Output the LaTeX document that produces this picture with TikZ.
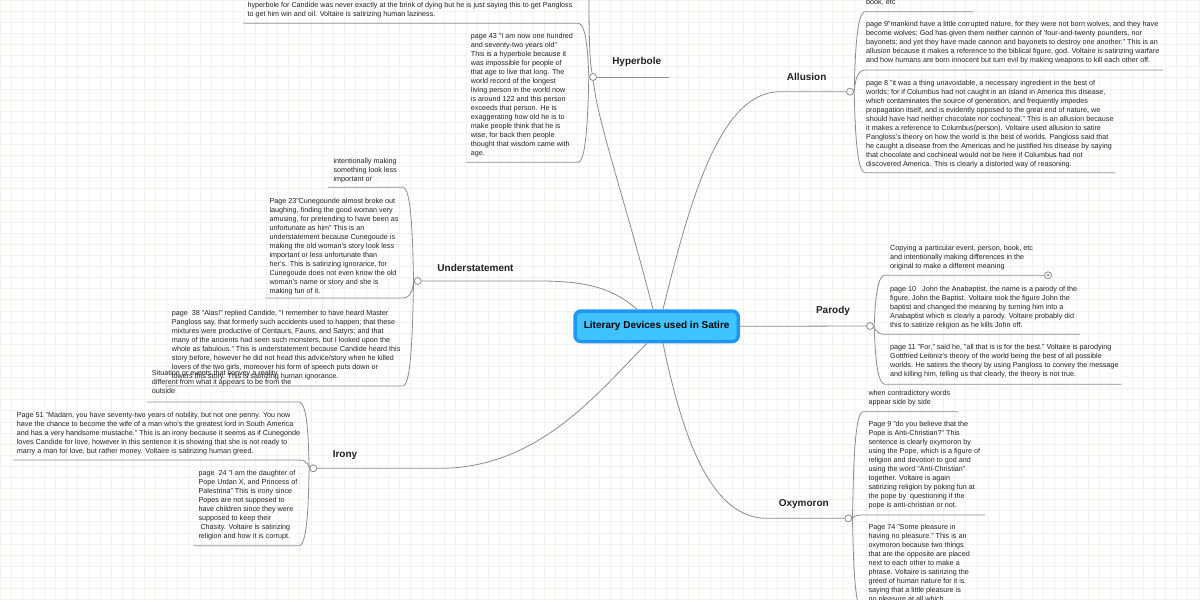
\documentclass[tikz,border=0pt]{standalone}
\usepackage{fontspec}
\setmainfont{Liberation Sans}
\definecolor{lc}{HTML}{8C8C8C}
\definecolor{gridc}{HTML}{F2F3EA}
\definecolor{cborder}{HTML}{2196F3}
\definecolor{cfill}{HTML}{40C4FF}
\definecolor{tc}{HTML}{222222}
\tikzset{
 conn/.style={draw=lc, line width=0.8pt},
 ul/.style={draw=lc, line width=0.8pt},
 knot/.style={circle, draw=lc, fill=white, line width=0.8pt, minimum size=7pt, inner sep=0pt},
 note/.style={anchor=north west, inner sep=0pt, align=left, text=tc, font=\fontsize{7.2}{9}\selectfont},
 topic/.style={inner sep=0pt, text=tc, font=\bfseries\fontsize{10}{12}\selectfont},
 central/.style={draw=cborder, fill=cfill, line width=3.5pt, rounded corners=6pt, minimum width=163.2pt, minimum height=30.5pt, inner sep=0pt, font=\bfseries\fontsize{10}{12}\selectfont, text=black}
}
\begin{document}
\begin{tikzpicture}[x=1pt,y=-1pt]
\useasboundingbox (0,0) rectangle (1200,600);
\fill[white] (0,0) rectangle (1200,600);
\clip (0,0) rectangle (1200,600);
\draw[gridc, line width=0.5pt, step=11.1pt] (0,600) grid (1200,0);

% central topic
\node[central] (c) at (656.65,326.3) {Literary Devices used in Satire};

% knots
\node[knot] (hy) at (593,77) {};
\node[knot] (al) at (850,91.7) {};
\node[knot] (pa) at (870,326) {};
\node[knot] (ox) at (848.3,518.3) {};
\node[knot] (us) at (417.7,281) {};
\node[knot] (ir) at (313.3,468.3) {};
\node[knot] (paDot) at (1048,275.3) {};
\fill[lc] (paDot.center) circle (1.3pt);

% topic labels
\node[topic] (hyL) at (636.7,62.3) {Hyperbole};
\node[topic] (alL) at (806.7,77.3) {Allusion};
\node[topic] (paL) at (833,311) {Parody};
\node[topic] (usL) at (475.5,267.5) {Understatement};
\node[topic] (irL) at (345,455) {Irony};
\node[topic] (oxL) at (803.8,504) {Oxymoron};

% main connectors
\coordinate (hyE) at (669,77);
\draw[conn] (hy) -- (hyE);
\draw[conn] ([xshift=-3.65pt]c.north) .. controls (625,200) and (597,120) .. (hy);
\coordinate (alB) at (780,91.7);
\draw[conn] ([xshift=6.35pt]c.north) .. controls (690,200) and (720,91.7) .. (alB) -- (al);
\coordinate (usB) at (540,281);
\draw[conn] ([xshift=-19.65pt]c.north) .. controls (615,290) and (590,281) .. (usB) -- (us);
\draw[conn] (c.east) -- (pa);
\coordinate (irB) at (440,468.3);
\draw[conn] ([xshift=-9.65pt]c.south) .. controls (600,390) and (540,468.3) .. (irB) -- (ir);
\coordinate (oxB) at (767,518.3);
\draw[conn] ([xshift=6.35pt]c.south) .. controls (685,450) and (715,518.3) .. (oxB) -- (ox);

% ---------- Hyperbole children
\coordinate (hyAa) at (578,23.3); \coordinate (hyAz) at (243.3,23.3);
\draw[ul] (hy) .. controls +(-5,0) and +(11,0) .. (hyAa) -- (hyAz);
\coordinate (hyUp) at (589,-10);
\draw[ul] (hy) .. controls (589,60) and (589,20) .. (hyUp);
\coordinate (hy43a) at (578,162.3); \coordinate (hy43z) at (466,162.3);
\draw[ul] (hy) .. controls +(-5,0) and +(11,0) .. (hy43a) -- (hy43z);
\node[note] (hyA) at (247.3,2.2) {hyperbole for Candide was never exactly at the brink of dying but he is just saying this to get Pangloss\\to get him win and oil. Voltaire is satirizing human laziness.};
\node[note] (hy43) at (470.7,32.9) {page 43 "I am now one hundred\\and seventy-two years old"\\This is a hyperbole because it\\was impossible for people of\\that age to live that long. The\\world record of the longest\\living person in the world now\\is around 122 and this person\\exceeds that person. He is\\exaggerating how old he is to\\make people think that he is\\wise, for back then people\\thought that wisdom came with\\age.};

% ---------- Allusion children
\coordinate (alDa) at (865,11.7); \coordinate (alDz) at (973,11.7);
\draw[ul] (al) .. controls +(5,0) and +(-11,0) .. (alDa) -- (alDz);
\coordinate (al9a) at (865,70); \coordinate (al9z) at (1163,70);
\draw[ul] (al) .. controls +(5,0) and +(-11,0) .. (al9a) -- (al9z);
\coordinate (al8a) at (865,172.7); \coordinate (al8z) at (1115,172.7);
\draw[ul] (al) .. controls +(5,0) and +(-11,0) .. (al8a) -- (al8z);
\node[note] (alDef) at (866,-1.1) {book, etc};
\node[note] (al9) at (866,21.2) {page 9"mankind have a little corrupted nature, for they were not born wolves, and they have\\become wolves; God has given them neither cannon of 'four-and-twenty pounders, nor\\bayonets; and yet they have made cannon and bayonets to destroy one another." This is an\\allusion because it makes a reference to the biblical figure, god. Voltaire is satirizing warfare\\and how humans are born innocent but turn evil by making weapons to kill each other off.};
\node[note] (al8) at (866,80.5) {page 8 "it was a thing unavoidable, a necessary ingredient in the best of\\worlds; for if Columbus had not caught in an island in America this disease,\\which contaminates the source of generation, and frequently impedes\\propagation itself, and is evidently opposed to the great end of nature, we\\should have had neither chocolate nor cochineal." This is an allusion because\\it makes a reference to Columbus(person). Voltaire used allusion to satire\\Pangloss's theory on how the world is the best of worlds. Pangloss said that\\he caught a disease from the Americas and he justified his disease by saying\\that chocolate and cochineal would not be here if Columbus had not\\discovered America. This is clearly a distorted way of reasoning.};

% ---------- Parody children
\coordinate (paDa) at (885,275.3);
\draw[ul] (pa) .. controls +(5,0) and +(-11,0) .. (paDa) -- (paDot);
\coordinate (pa10a) at (885,334.3); \coordinate (pa10z) at (1080,334.3);
\draw[ul] (pa) .. controls +(5,0) and +(-11,0) .. (pa10a) -- (pa10z);
\coordinate (pa11a) at (885,384.3); \coordinate (pa11z) at (1121.7,384.3);
\draw[ul] (pa) .. controls +(5,0) and +(-11,0) .. (pa11a) -- (pa11z);
\node[note] (paDef) at (890,245.5) {Copying a particular event, person, book, etc\\and intentionally making differences in the\\original to make a different meaning};
\node[note] (pa10) at (890,286.5) {page 10 \ \ John the Anabaptist, the name is a parody of the\\figure, John the Baptist. Voltaire took the figure John the\\baptist and changed the meaning by turning him into a\\Anabaptist which is clearly a parody. Voltaire probably did\\this to satirize religion as he kills John off.};
\node[note] (pa11) at (890,344.5) {page 11 "For," said he, "all that is is for the best." Voltaire is parodying\\Gottfried Leibniz's theory of the world being the best of all possible\\worlds. He satires the theory by using Pangloss to convey the message\\and killing him, telling us that clearly, the theory is not true.};

% ---------- Oxymoron children
\coordinate (oxDa) at (863,411.7); \coordinate (oxDz) at (958,411.7);
\draw[ul] (ox) .. controls +(5,0) and +(-11,0) .. (oxDa) -- (oxDz);
\coordinate (ox9a) at (863,515); \coordinate (ox9z) at (985,515);
\draw[ul] (ox) .. controls +(5,0) and +(-11,0) .. (ox9a) -- (ox9z);
\coordinate (ox74a) at (863,612);
\draw[ul] (ox) .. controls +(5,0) and +(-11,0) .. (ox74a);
\node[note] (oxDef) at (868.3,390.5) {when contradictory words\\appear side by side};
\node[note] (ox9) at (868.3,421.5) {Page 9 "do you believe that the\\Pope is Anti-Christian?" This\\sentence is clearly oxymoron by\\using the Pope, which is a figure of\\religion and devotion to god and\\using the word "Anti-Christian"\\together. Voltaire is again\\satirizing religion by poking fun at\\the pope by \ questioning if the\\pope is anti-christian or not.};
\node[note] (ox74) at (868.3,524.2) {Page 74 "Some pleasure in\\having no pleasure." This is an\\oxymoron because two things\\that are the opposite are placed\\next to each other to make a\\phrase. Voltaire is satirizing the\\greed of human nature for it is\\saying that a little pleasure is\\no pleasure at all which};

% ---------- Understatement children
\coordinate (usDa) at (403,187.3); \coordinate (usDz) at (328,187.3);
\draw[ul] (us) .. controls +(-5,0) and +(11,0) .. (usDa) -- (usDz);
\coordinate (us23a) at (403,298); \coordinate (us23z) at (265,298);
\draw[ul] (us) .. controls +(-5,0) and +(11,0) .. (us23a) -- (us23z);
\coordinate (us38a) at (403,386); \coordinate (us38z) at (165,386);
\draw[ul] (us) .. controls +(-5,0) and +(11,0) .. (us38a) -- (us38z);
\node[note] (usDef) at (333.3,157.9) {intentionally making\\something look less\\important or};
\node[note] (us23) at (269.3,198.2) {Page 23"Cunegounde almost broke out\\laughing, finding the good woman very\\amusing, for pretending to have been as\\unfortunate as him" This is an\\understatement because Cunegoude is\\making the old woman's story look less\\important or less unfortunate than\\her's. This is satirizing ignorance, for\\Cunegoude does not even know the old\\woman's name or story and she is\\making fun of it.};
\node[note] (us38) at (171.7,310.5) {page \ 38 "Alas!" replied Candide, "I remember to have heard Master\\Pangloss say, that formerly such accidents used to happen; that these\\mixtures were productive of Centaurs, Fauns, and Satyrs; and that\\many of the ancients had seen such monsters, but I looked upon the\\whole as fabulous." This is understatement because Candide heard this\\story before, however he did not head this advice/story when he killed\\lovers of the two girls, moreover his form of speech puts down or\\lowers this story. This is satirizing human ignorance.};

% ---------- Irony children
\coordinate (irDa) at (299,402); \coordinate (irDz) at (147,402);
\draw[ul] (ir) .. controls +(-5,0) and +(11,0) .. (irDa) -- (irDz);
\coordinate (ir51a) at (299,460); \coordinate (ir51z) at (13.3,460);
\draw[ul] (ir) .. controls +(-5,0) and +(11,0) .. (ir51a) -- (ir51z);
\coordinate (ir24a) at (299,545.7); \coordinate (ir24z) at (193.3,545.7);
\draw[ul] (ir) .. controls +(-5,0) and +(11,0) .. (ir24a) -- (ir24z);
\node[note] (irDef) at (151.7,370.5) {Situation or events that convey a reality\\different from what it appears to be from the\\outside};
\node[note] (ir51) at (16.7,412.2) {Page 51 "Madam, you have seventy-two years of nobility, but not one penny. You now\\have the chance to become the wife of a man who's the greatest lord in South America\\and has a very handsome mustache." This is an irony because it seems as if Cunegonde\\loves Candide for love, however in this sentence it is showing that she is not ready to\\marry a man for love, but rather money. Voltaire is satirizing human greed.};
\node[note] (ir24) at (198.3,469.9) {page \ 24 "I am the daughter of\\Pope Urdan X, and Princess of\\Palestrina" This is irony since\\Popes are not supposed to\\have children since they were\\supposed to keep their\\\ Chasity. Voltaire is satirizing\\religion and how it is corrupt.};
\end{tikzpicture}
\end{document}
